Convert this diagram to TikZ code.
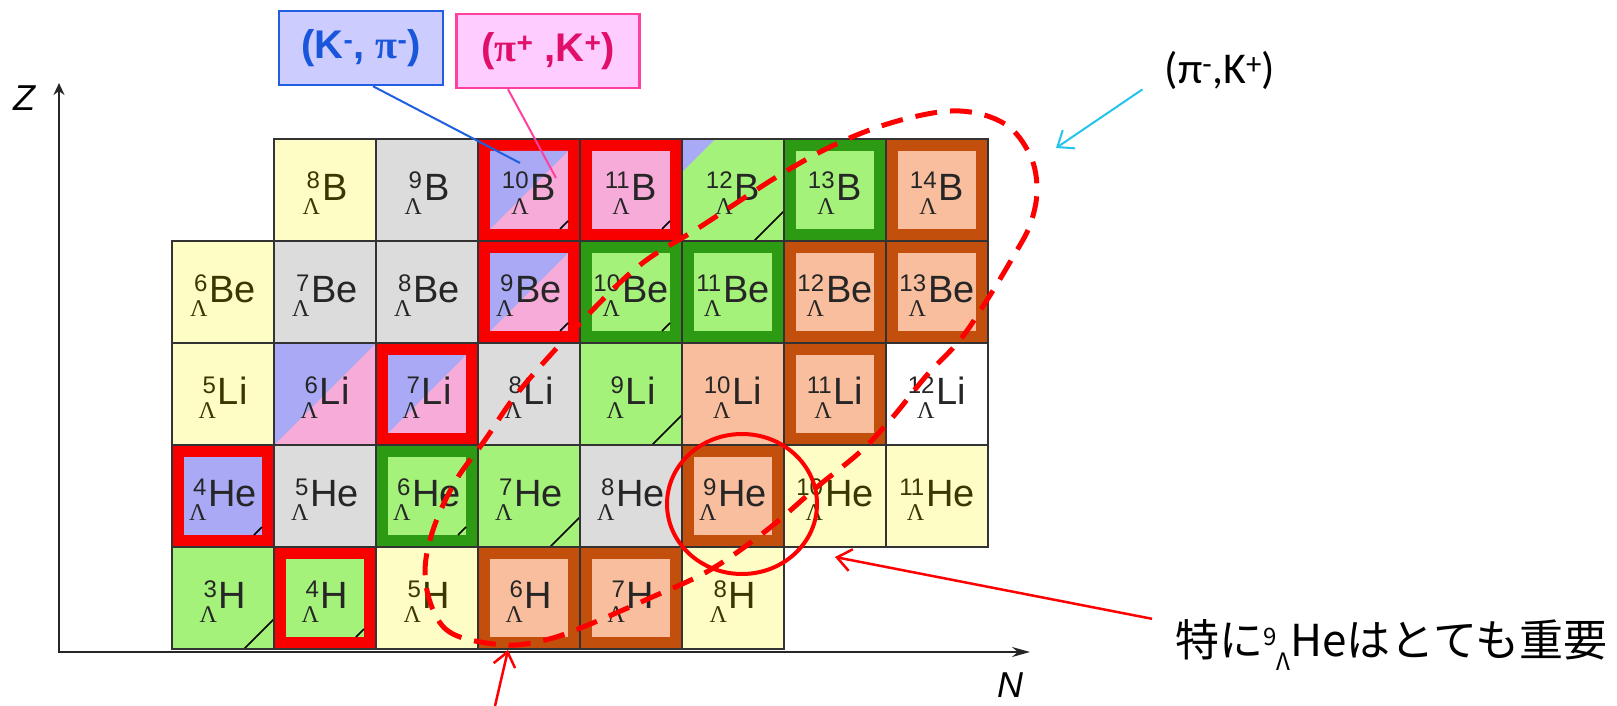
\documentclass[tikz,border=0pt]{standalone}
\usepackage{fontspec}
\setmainfont{Liberation Sans}
\newfontfamily\lamf{Liberation Serif}
\newfontfamily\calf{Carlito}
\newfontfamily\jpf{Noto Sans CJK JP}
\usetikzlibrary{arrows.meta}

\definecolor{cYel}{HTML}{FFFDC6}
\definecolor{cOlv}{HTML}{3A3800}
\definecolor{cGry}{HTML}{DCDCDC}
\definecolor{cGrn}{HTML}{A4F27A}
\definecolor{cDgr}{HTML}{2C9A12}
\definecolor{cRed}{HTML}{F80000}
\definecolor{cBrn}{HTML}{C2500C}
\definecolor{cSal}{HTML}{F9BE9E}
\definecolor{cBlu}{HTML}{A9A9F5}
\definecolor{cPnk}{HTML}{F6ABD9}
\definecolor{cKbg}{HTML}{CCCCFF}
\definecolor{cKln}{HTML}{2060E0}
\definecolor{cKtx}{HTML}{1A56DB}
\definecolor{cPbg}{HTML}{FFCCFF}
\definecolor{cPln}{HTML}{FF40A0}
\definecolor{cPtx}{HTML}{E0106A}
\definecolor{cCyn}{HTML}{22C4EC}

\newcommand\hyp[2]{{\fontsize{24}{25}\selectfont\raisebox{-14pt}{\begin{tabular}[b]{@{}r@{}}#1\\{\lamf Λ}\end{tabular}}}\kern2pt{\fontsize{38}{40}\selectfont#2}}
\newcommand\innersq[1]{\fill[#1] ([shift={(12pt,12pt)}]path picture bounding box.south west) rectangle ([shift={(-12pt,-12pt)}]path picture bounding box.north east);}
\newcommand\splitsq[1]{\fill[cBlu] ([shift={(#1,-#1)}]path picture bounding box.north west) -- ([shift={(-#1,-#1)}]path picture bounding box.north east) -- ([shift={(#1,#1)}]path picture bounding box.south west) -- cycle;}
\newcommand\cmark{\draw[black, line width=1.5pt] ([shift={(-20pt,12pt)}]path picture bounding box.south east) -- ([shift={(-12pt,20pt)}]path picture bounding box.south east);}
\newcommand\gline{\draw[black, line width=1.5pt] ([xshift=-30pt]path picture bounding box.south east) -- ([yshift=30pt]path picture bounding box.south east);}

\begin{document}
\begin{tikzpicture}[x=1pt, y=-1pt,
  cell/.style={minimum width=102pt, minimum height=102pt, inner sep=0pt,
    draw=black!80, line width=1.2pt, text=black!85, text height=30pt, text depth=10pt},
  yel/.style={cell, fill=cYel, text=cOlv},
  gry/.style={cell, fill=cGry},
  wht/.style={cell, fill=white},
  sal/.style={cell, fill=cSal},
  grn/.style={cell, fill=cGrn, path picture={\gline}},
  grnb/.style={cell, fill=cGrn, path picture={\fill[cBlu] (path picture bounding box.north west) -- ([xshift=33pt]path picture bounding box.north west) -- ([yshift=-33pt]path picture bounding box.north west) -- cycle; \gline}},
  spl/.style={cell, fill=cPnk, path picture={\splitsq{0pt}}},
  rspl/.style={cell, fill=cRed, path picture={\innersq{cPnk}\splitsq{12pt}}},
  rsplm/.style={cell, fill=cRed, path picture={\innersq{cPnk}\splitsq{12pt}\cmark}},
  rpnk/.style={cell, fill=cRed, path picture={\innersq{cPnk}\cmark}},
  rblu/.style={cell, fill=cRed, path picture={\innersq{cBlu}\cmark}},
  rgrn/.style={cell, fill=cRed, path picture={\innersq{cGrn}\cmark}},
  dgr/.style={cell, fill=cDgr, path picture={\innersq{cGrn}}},
  dgrm/.style={cell, fill=cDgr, path picture={\innersq{cGrn}\cmark}},
  brn/.style={cell, fill=cBrn, path picture={\innersq{cSal}}},
  zone/.style={draw=red, line width=5pt, dash pattern=on 22pt off 13pt},
  ring/.style={draw=red, line width=4pt},
  ax/.style={line width=2pt, black!85},
  axlab/.style={font=\fontsize{36}{36}\selectfont\itshape, inner sep=0pt},
  tagbox/.style={line width=2.5pt, font=\fontsize{40}{42}\selectfont\bfseries, inner sep=0pt},
  ptr/.style={-{Straight Barb[length=14pt,width=22pt]}}
]
\useasboundingbox (0,0) rectangle (1617,706);
\coordinate (o) at (59,652);
\coordinate (ztop) at (59,83);
\coordinate (nend) at (1030,652);
\draw[ax, -{Stealth[length=12pt,width=11pt]}] (o) -- (ztop);
\draw[ax, -{Stealth[length=18pt,width=10pt]}] ([xshift=-1pt]o) -- (nend);
\node[axlab] (zlab) at (24,98) {Z};
\node[axlab] (nlab) at (1010,685) {N};

\foreach \c/\r/\s/\a/\e in {
  1/0/yel/8/B, 2/0/gry/9/B, 3/0/rsplm/10/B, 4/0/rpnk/11/B, 5/0/grnb/12/B, 6/0/dgr/13/B, 7/0/brn/14/B,
  0/1/yel/6/Be, 1/1/gry/7/Be, 2/1/gry/8/Be, 3/1/rsplm/9/Be, 4/1/dgrm/10/Be, 5/1/dgr/11/Be, 6/1/brn/12/Be, 7/1/brn/13/Be,
  0/2/yel/5/Li, 1/2/spl/6/Li, 2/2/rspl/7/Li, 3/2/gry/8/Li, 4/2/grn/9/Li, 5/2/sal/10/Li, 6/2/brn/11/Li, 7/2/wht/12/Li,
  0/3/rblu/4/He, 1/3/gry/5/He, 2/3/dgrm/6/He, 3/3/grn/7/He, 4/3/gry/8/He, 5/3/brn/9/He, 6/3/yel/10/He, 7/3/yel/11/He,
  0/4/grn/3/H, 1/4/rgrn/4/H, 2/4/yel/5/H, 3/4/brn/6/H, 4/4/brn/7/H, 5/4/yel/8/H}
  \node[\s] (h\a\e) at ({223+102*\c},{190+102*\r}) {\hyp{\a}{\e}};

\draw[zone] plot[smooth cycle, tension=0.6] coordinates {(505,645) (455,635) (434,612) (425,573)
  (433,530) (455,482) (485,440) (520,390) (583,320) (640,265) (700,227) (783,173) (845,140)
  (905,119) (960,111) (1005,124) (1030,155) (1037,190) (1030,225) (1013,257) (987,300)
  (960,340) (927,375) (892,418) (860,452) (817,487) (767,530) (710,570) (650,598) (583,627) (545,640)};
\draw[ring] ([shift={(9pt,-8pt)}]h9He.center) ellipse [x radius=75pt, y radius=70pt];

\node[tagbox, fill=cKbg, draw=cKln, text=cKtx, minimum width=164pt, minimum height=74pt] (kbox) at (361,48)
  {(K\textsuperscript{-}, {\lamf π}\textsuperscript{-})};
\node[tagbox, fill=cPbg, draw=cPln, text=cPtx, minimum width=183pt, minimum height=74pt] (pbox) at (548,51)
  {({\lamf π}\textsuperscript{+} ,K\textsuperscript{+})};
\coordinate (kpin) at (520,163);
\coordinate (ppin) at (556,178);
\draw[cKln, line width=2pt] ([xshift=12pt]kbox.south) -- (kpin);
\draw[cPln, line width=2pt] ([xshift=-40pt]pbox.south) -- (ppin);

\node[font=\calf\fontsize{44}{46}\selectfont, inner sep=0pt] (pmk) at (1220,70) {(π\textsuperscript{-},K\textsuperscript{+})};
\coordinate (pmktip) at (1056,148);
\draw[ptr, cCyn, line width=2pt] ([xshift=-22pt]pmk.south west) -- (pmktip);

\node[font=\jpf\fontsize{44}{46}\selectfont, inner sep=0pt, anchor=base west] (note) at (1175,656)
  {特に\raisebox{11pt}{\fontsize{24}{24}\selectfont 9}\raisebox{-14pt}{\fontsize{24}{24}\selectfont Λ}Heはとても重要};
\coordinate (ringtip) at (835,557);
\draw[ptr, red, line width=2.5pt] ([xshift=-23pt]note.north west) -- (ringtip);

\coordinate (foot) at (495,706);
\coordinate (foottip) at (508,650);
\draw[ptr, red, line width=2.5pt] (foot) -- (foottip);
\end{tikzpicture}
\end{document}
